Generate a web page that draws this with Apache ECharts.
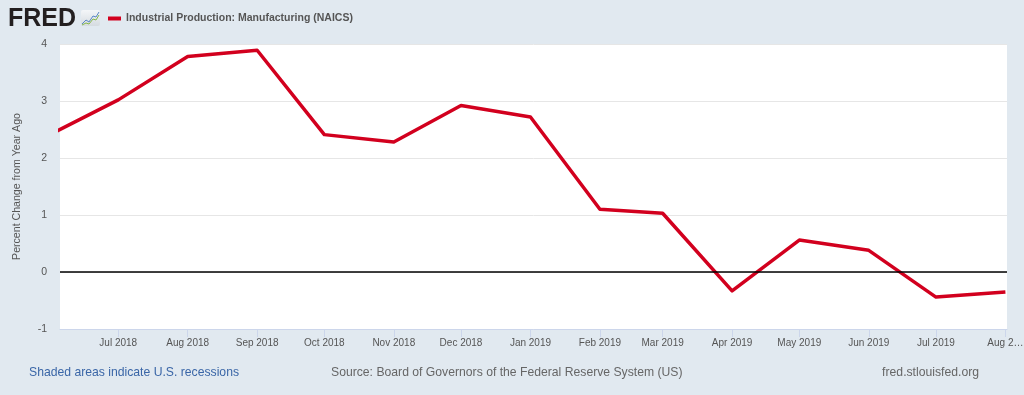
<!DOCTYPE html>
<html>
<head>
<meta charset="utf-8">
<script src="https://cdn.jsdelivr.net/npm/echarts@6/dist/echarts.min.js"></script>
<style>
html,body{margin:0;padding:0;background:#e1e9f0;}
#c{width:1024px;height:395px;}
</style>
</head>
<body>
<div id="c"></div>
<script>
const months = ['2018-06-01','2018-07-01','2018-08-01','2018-09-01','2018-10-01','2018-11-01','2018-12-01',
  '2019-01-01','2019-02-01','2019-03-01','2019-04-01','2019-05-01','2019-06-01','2019-07-01','2019-08-01'];
const values = [2.42, 3.02, 3.78, 3.89, 2.41, 2.28, 2.92, 2.72, 1.10, 1.03, -0.33, 0.56, 0.38, -0.44, -0.35];
const tickLabels = ['Jun 2018','Jul 2018','Aug 2018','Sep 2018','Oct 2018','Nov 2018','Dec 2018',
  'Jan 2019','Feb 2019','Mar 2019','Apr 2019','May 2019','Jun 2019','Jul 2019','Aug 2\u2026'];
const seriesName = 'Industrial Production: Manufacturing (NAICS)';
const yAxisTitle = 'Percent Change from Year Ago';

const FONT = '"Liberation Sans", Arial, sans-serif';
const chart = echarts.init(document.getElementById('c'));

function monthKey(d){ return d.getFullYear()*12 + d.getMonth(); }
const keyToLabel = {};
months.forEach((m,i)=>{ const p=m.split('-'); keyToLabel[(+p[0])*12 + (+p[1]-1)] = tickLabels[i]; });

chart.setOption({
  backgroundColor: '#e1e9f0',
  animation: false,
  grid: { left: 60, right: 17, top: 44, height: 285, backgroundColor: '#ffffff', show: true, borderWidth: 0,
          outerBoundsMode: 'none', containLabel: false },
  legend: {
    left: 103, top: 8,
    itemWidth: 13, itemHeight: 4, icon: 'rect',
    textStyle: { fontFamily: FONT, fontSize: 10.5, fontWeight: 'bold', color: '#555' },
    data: [seriesName]
  },
  xAxis: {
    type: 'time',
    min: '2018-06-05',
    max: '2019-08-01 17:00',
    splitNumber: 14,
    minInterval: 28*86400000,
    maxInterval: 31*86400000,
    axisLine: { show: true, onZero: false, lineStyle: { color: '#ccd6eb', width: 1 } },
    axisTick: { show: true, length: 8, lineStyle: { color: '#ccd6eb' } },
    splitLine: { show: false },
    axisLabel: {
      fontFamily: FONT, fontSize: 10, color: '#555', margin: 9,
      showMinLabel: false, showMaxLabel: false,
      formatter: function(v){ const k = monthKey(new Date(v)); return keyToLabel[k] || ''; }
    }
  },
  yAxis: {
    type: 'value',
    min: -1, max: 4, interval: 1,
    name: yAxisTitle,
    nameLocation: 'middle',
    nameGap: 37,
    nameRotate: 90,
    nameTextStyle: { fontFamily: FONT, fontSize: 10.6, color: '#555' },
    axisLine: { show: false },
    axisTick: { show: false },
    splitLine: { lineStyle: { color: '#e6e6e6', width: 1 } },
    axisLabel: { fontFamily: FONT, fontSize: 10.5, color: '#555', margin: 13 }
  },
  series: [{
    name: seriesName,
    type: 'line',
    data: months.map((m,i)=>[m, values[i]]),
    showSymbol: false,
    symbol: 'none',
    lineStyle: { color: '#d2001e', width: 3.5, join: 'round' },
    itemStyle: { color: '#d2001e' },
    clip: true,
    markLine: {
      silent: true, symbol: 'none', animation: false,
      label: { show: false },
      lineStyle: { color: '#000', width: 1.5, type: 'solid' },
      data: [{ yAxis: 0 }]
    }
  }],
  graphic: [
    { type: 'text', left: 8, top: 7, style: { text: 'FRED', font: 'bold 25px ' + FONT, fill: '#231f20' } },
    { type: 'rect', shape: { x: 81, y: 10, width: 19, height: 16, r: 2 },
      style: { fill: new echarts.graphic.LinearGradient(0,0,0,1,[{offset:0,color:'#f4f6f8'},{offset:1,color:'#d5dbe0'}]) } },
    { type: 'polyline', shape: { points: [[82,24],[86,20],[89,22],[93,16],[96,17],[99,12]] },
      style: { stroke: '#5b87c5', lineWidth: 1, fill: null } },
    { type: 'polyline', shape: { points: [[82,25],[86,23],[89,24],[93,19],[96,20],[99,15]] },
      style: { stroke: '#86b84a', lineWidth: 1, fill: null } },
    { type: 'text', left: 29, top: 367, style: { text: 'Shaded areas indicate U.S. recessions', font: '12.2px ' + FONT, fill: '#3a66a7' } },
    { type: 'text', left: 331, top: 367, style: { text: 'Source: Board of Governors of the Federal Reserve System (US)', font: '12.2px ' + FONT, fill: '#666' } },
    { type: 'text', right: 45, top: 367, style: { text: 'fred.stlouisfed.org', font: '12.2px ' + FONT, fill: '#666' } }
  ]
});
</script>
</body>
</html>
